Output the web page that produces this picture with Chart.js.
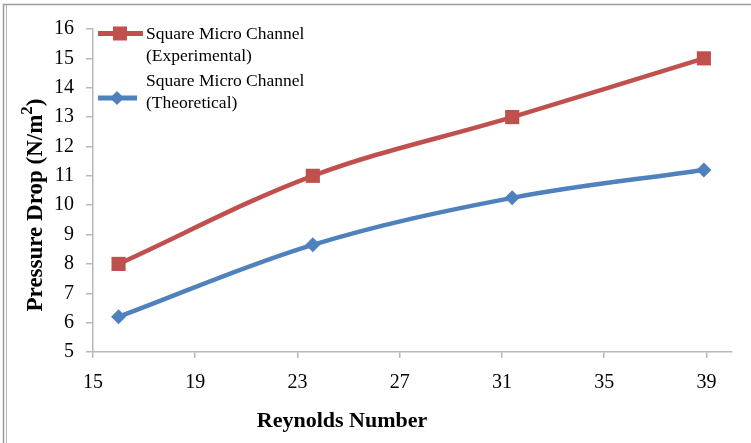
<!DOCTYPE html>
<html>
<head>
<meta charset="utf-8">
<script src="https://cdn.jsdelivr.net/npm/chart.js@4/dist/chart.umd.min.js"></script>
<style>
  html, body { margin: 0; padding: 0; background: #fff; }
  #wrap { position: relative; width: 751px; height: 443px; }
</style>
</head>
<body>
<div id="wrap"><canvas id="c" width="751" height="443"></canvas></div>
<script>
// Reynolds number at each measurement
const reynolds = [16, 23.6, 31.4, 38.9];
// Pressure drop (N/m^2)
const experimental = [8, 11, 13, 15];
const theoretical = [6.2, 8.65, 10.25, 11.2];
// Axis tick values
const xTicks = [15, 19, 23, 27, 31, 35, 39];
const yTicks = [5, 6, 7, 8, 9, 10, 11, 12, 13, 14, 15, 16];
// Legend text, one entry per series, split into lines
const seriesNames = [
  ['Square Micro Channel', '(Experimental)'],
  ['Square Micro Channel', '(Theoretical)']
];
const xTitle = 'Reynolds Number';
const yTitleParts = ['Pressure Drop (N/m', '2', ')'];

const RED = '#C0504D';
const BLUE = '#4F81BD';
const AXIS = '#b8b8b8';
const SERIF = '"Liberation Serif", "Times New Roman", serif';

const toPoints = (xs, ys) => xs.map((x, i) => ({ x: x, y: ys[i] }));

// Frame, legend and axis titles drawn on the canvas
const decor = {
  id: 'decor',
  beforeDraw(chart) {
    const ctx = chart.ctx;
    ctx.save();
    ctx.fillStyle = '#fff';
    ctx.fillRect(0, 0, chart.width, chart.height);
    ctx.strokeStyle = '#9a9a9a';
    ctx.lineWidth = 1.5;
    ctx.beginPath();
    ctx.moveTo(3.5, chart.height);
    ctx.lineTo(3.5, 4.5);
    ctx.lineTo(chart.width, 4.5);
    ctx.stroke();
    ctx.strokeStyle = '#b5b5b5';
    ctx.lineWidth = 1;
    ctx.beginPath();
    ctx.moveTo(6.5, 5);
    ctx.lineTo(6.5, chart.height);
    ctx.stroke();
    ctx.restore();
  },
  afterDraw(chart) {
    const ctx = chart.ctx;
    const ds = chart.data.datasets;
    ctx.save();

    // Legend: experimental series
    ctx.lineWidth = 5;
    ctx.strokeStyle = ds[0].borderColor;
    ctx.beginPath();
    ctx.moveTo(98, 33.5);
    ctx.lineTo(143, 33.5);
    ctx.stroke();
    ctx.fillStyle = ds[0].pointBackgroundColor;
    ctx.fillRect(120 - 7, 33.5 - 7, 14, 14);

    // Legend: theoretical series
    ctx.strokeStyle = ds[1].borderColor;
    ctx.beginPath();
    ctx.moveTo(98, 98);
    ctx.lineTo(137, 98);
    ctx.stroke();
    ctx.fillStyle = ds[1].pointBackgroundColor;
    ctx.beginPath();
    ctx.moveTo(117, 91);
    ctx.lineTo(124, 98);
    ctx.lineTo(117, 105);
    ctx.lineTo(110, 98);
    ctx.closePath();
    ctx.fill();

    ctx.fillStyle = '#000';
    ctx.font = '17.5px ' + SERIF;
    ctx.textAlign = 'left';
    ctx.textBaseline = 'middle';
    ctx.fillText(seriesNames[0][0], 146, 34);
    ctx.fillText(seriesNames[0][1], 146, 56);
    ctx.fillText(seriesNames[1][0], 146, 81);
    ctx.fillText(seriesNames[1][1], 146, 103);

    // X axis title
    ctx.font = 'bold 22px ' + SERIF;
    ctx.textAlign = 'center';
    ctx.fillText(xTitle, 342, 421);

    // Y axis title with superscript
    ctx.translate(36, 205);
    ctx.rotate(-Math.PI / 2);
    const big = 'bold 23px ' + SERIF;
    const small = 'bold 17px ' + SERIF;
    ctx.font = big;
    const w0 = ctx.measureText(yTitleParts[0]).width;
    const w2 = ctx.measureText(yTitleParts[2]).width;
    ctx.font = small;
    const w1 = ctx.measureText(yTitleParts[1]).width;
    let x = -(w0 + w1 + w2) / 2;
    ctx.textAlign = 'left';
    ctx.font = big;
    ctx.fillText(yTitleParts[0], x, 0);
    x += w0;
    ctx.font = small;
    ctx.fillText(yTitleParts[1], x, -8);
    x += w1;
    ctx.font = big;
    ctx.fillText(yTitleParts[2], x, 0);

    ctx.restore();
  }
};

new Chart(document.getElementById('c'), {
  type: 'line',
  data: {
    datasets: [
      {
        label: seriesNames[0].join(' '),
        data: toPoints(reynolds, experimental),
        borderColor: RED,
        backgroundColor: RED,
        pointBackgroundColor: RED,
        pointBorderColor: RED,
        borderWidth: 4.5,
        pointStyle: 'rect',
        pointRadius: 10,
        pointBorderWidth: 0,
        tension: 0.35,
        fill: false
      },
      {
        label: seriesNames[1].join(' '),
        data: toPoints(reynolds, theoretical),
        borderColor: BLUE,
        backgroundColor: BLUE,
        pointBackgroundColor: BLUE,
        pointBorderColor: BLUE,
        borderWidth: 4.5,
        pointStyle: 'rectRot',
        pointRadius: 7.5,
        pointBorderWidth: 0,
        tension: 0.35,
        fill: false
      }
    ]
  },
  options: {
    responsive: false,
    animation: false,
    devicePixelRatio: 1,
    layout: { padding: { left: 0, right: 19, top: 29, bottom: 0 } },
    plugins: {
      legend: { display: false },
      tooltip: { enabled: false }
    },
    scales: {
      x: {
        type: 'linear',
        min: 15,
        max: 40,
        afterBuildTicks: (s) => { s.ticks = xTicks.map(v => ({ value: v })); },
        afterFit: (s) => { s.height = 91; },
        ticks: {
          color: '#000',
          font: { family: SERIF, size: 20 },
          padding: 13,
          maxRotation: 0,
          autoSkip: false
        },
        grid: { drawOnChartArea: false, drawTicks: true, tickLength: 6, color: AXIS, lineWidth: 1.5 },
        border: { color: AXIS, width: 1.5 }
      },
      y: {
        min: 5,
        max: 16,
        afterBuildTicks: (s) => { s.ticks = yTicks.map(v => ({ value: v })); },
        afterFit: (s) => { s.width = 93; },
        ticks: {
          color: '#000',
          font: { family: SERIF, size: 20 },
          padding: 12,
          autoSkip: false
        },
        grid: { drawOnChartArea: false, drawTicks: true, tickLength: 7, color: AXIS, lineWidth: 1.5 },
        border: { color: AXIS, width: 1.5 }
      }
    }
  },
  plugins: [decor]
});
</script>
</body>
</html>
